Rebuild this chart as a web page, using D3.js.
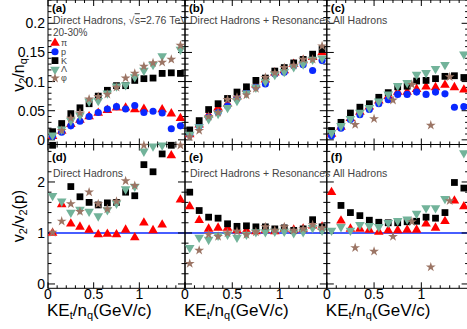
<!DOCTYPE html>
<html>
<head>
<meta charset="utf-8">
<script src="https://cdn.jsdelivr.net/npm/d3@7/dist/d3.min.js"></script>
<style>
  body { margin: 0; background: #fff; }
  svg { display: block; font-family: "Liberation Sans", Arial, sans-serif; }
</style>
</head>
<body>
<svg id="chart" width="467" height="329"></svg>
<script>
// KE_t/n_q bin centres (GeV/c)
const ket = [0.05, 0.15, 0.25, 0.35, 0.45, 0.55, 0.65, 0.75, 0.85, 0.95, 1.05, 1.15, 1.25, 1.35, 1.45];
// phi uses wider bins in the "All Hadrons" panels
const ketPhiAll = [0.3, 0.5, 0.7, 0.9, 1.1, 1.3];

// (a) direct hadrons, v2/nq
const aPi  = [0.006, 0.015, 0.027, 0.034, 0.040, 0.046, 0.051, 0.055, 0.055, 0.052, 0.053, null, 0.052, 0.045, 0.037];
const aP   = [0.006, 0.013, 0.024, 0.032, 0.040, 0.047, 0.053, 0.057, 0.053, 0.059, 0.047, 0.049, 0.046, 0.019, 0.024];
const aK   = [0.014, 0.028, 0.045, 0.055, 0.062, 0.075, 0.085, 0.093, 0.093, 0.102, 0.105, 0.106, 0.114, 0.115, 0.114];
const aLam = [0.008, 0.018, 0.033, 0.042, 0.066, 0.067, 0.080, 0.092, 0.094, 0.108, 0.119, 0.129, 0.144, null, 0.155];
const aPhi = [null, 0.016, 0.037, 0.046, 0.070, 0.074, 0.078, 0.090, 0.106, 0.114, 0.126, 0.132, 0.133, 0.138, 0.162];

// (b) direct hadrons + resonances, v2/nq
const bPi  = [0.009, 0.026, 0.043, 0.055, 0.062, 0.074, 0.087, 0.095, 0.103, 0.115, 0.119, 0.130, 0.136, 0.142, 0.150];
const bP   = [0.009, 0.024, 0.039, 0.047, 0.058, 0.071, 0.083, 0.091, 0.096, 0.113, 0.116, 0.127, 0.129, 0.119, 0.136];
const bK   = [0.017, 0.033, 0.052, 0.062, 0.071, 0.082, 0.091, 0.102, 0.106, 0.118, 0.124, 0.132, 0.138, 0.147, 0.155];
const bLam = [0.009, 0.022, 0.036, 0.045, 0.055, 0.067, 0.080, 0.090, 0.100, 0.112, 0.117, 0.125, 0.130, 0.138, 0.140];
const bPhi = [0.005, 0.016, 0.040, 0.047, 0.069, 0.073, 0.077, 0.088, 0.107, 0.115, 0.124, 0.128, 0.138, 0.138, 0.161];

// (c) all hadrons, v2/nq
const cPi  = [0.010, 0.022, 0.037, 0.048, 0.057, 0.067, 0.075, 0.082, 0.082, 0.087, 0.091, 0.090, 0.094, 0.090, 0.086];
const cP   = [0.007, 0.020, 0.035, 0.043, 0.052, 0.062, 0.069, 0.078, 0.078, 0.082, 0.078, 0.082, 0.079, 0.056, 0.057];
const cK   = [0.016, 0.030, 0.046, 0.056, 0.062, 0.073, 0.081, 0.091, 0.092, 0.101, 0.102, 0.105, 0.109, 0.110, 0.107];
const cLam = [0.012, 0.024, 0.036, 0.047, 0.055, 0.066, 0.078, 0.093, 0.098, 0.112, 0.115, 0.122, 0.129, null, 0.147];
const cPhi = [0.026, 0.036, 0.068, 0.095, 0.025, 0.108];

// (d) direct hadrons, v2/v2(p)
const dPi  = [1.00, 1.56, 1.18, 1.12, 1.06, 0.97, 0.98, 0.97, 1.06, 0.91, 1.20, 1.05, 1.16, 2.52, 1.65];
const dK   = [2.72, null, 1.91, 1.71, 1.60, 1.55, 1.59, 1.60, 1.80, 1.73, 2.34, 2.20, 2.55, 2.72, null];
const dLam = [1.73, 1.62, 1.40, 1.46, 1.42, 1.33, 1.45, 1.58, 1.86, 1.91, 2.60, 2.70, 2.72, null, null];
const dPhi = [1.01, 1.23, 1.57, 1.42, 1.80, 1.57, 1.47, 1.62, 2.02, 1.93, 2.72, null, null, null, 2.72];

// (e) direct hadrons + resonances, v2/v2(p)
const ePi  = [1.52, 1.25, 1.08, 1.10, 1.10, 1.05, 1.05, 1.03, 1.05, 1.03, 1.08, 1.06, 1.08, 1.14, 1.12];
const eK   = [1.80, 1.44, 1.31, 1.29, 1.18, 1.13, 1.14, 1.12, 1.12, 1.08, 1.10, 1.05, 1.08, 1.26, 1.12];
const eLam = [0.71, 0.91, 0.87, 0.95, 0.97, 0.91, 0.97, 1.02, 1.02, 1.03, 1.03, 1.00, 1.02, 1.10, 1.05];
const ePhi = [0.40, 0.66, 0.97, 0.93, 1.00, 1.03, 0.97, 1.02, 1.12, 1.05, 1.12, 1.05, 1.08, 1.16, 1.10];

// (f) all hadrons, v2/v2(p)
const fPi  = [1.80, 1.24, 1.08, 1.08, 1.06, 1.02, 1.05, 1.05, 1.06, 1.06, 1.18, 1.10, 1.23, 1.63, 1.52];
const fK   = [null, 1.54, 1.40, 1.34, 1.25, 1.21, 1.20, 1.20, 1.22, 1.23, 1.31, 1.29, 1.40, 1.99, 1.88];
const fLam = [1.05, 1.12, 1.05, 1.16, 1.14, 1.12, 1.20, 1.24, 1.27, 1.38, 1.49, 1.49, 1.67, null, 2.57];
const fPhi = [0.71, 0.64, 0.93, 1.22, 0.33, 1.63];

const species = {
    pi:  { label: '\u03c0', color: '#ff0000', shape: d3.symbolTriangle, size: 40, rot: 0 },
    p:   { label: 'p',      color: '#0a28ff', shape: d3.symbolCircle,   size: 40, rot: 0 },
    K:   { label: 'K',      color: '#000000', shape: d3.symbolSquare,   size: 46, rot: 0 },
    lam: { label: '\u039b', color: '#72b39a', shape: d3.symbolTriangle, size: 40, rot: 180 },
    phi: { label: '\u03c6', color: '#9c7565', shape: d3.symbolStar,     size: 30, rot: 0 }
};

const cols = [[48, 185], [185, 326.8], [326.8, 468.6]];
const rowTop = [0, 144.5];
const rowBot = [144.5, 288.3];

const svg = d3.select('#chart');

const yTop = d3.scaleLinear().domain([-0.008, 0.24]).range([rowTop[1], rowTop[0]]);
const yBot = d3.scaleLinear().domain([-0.085, 2.735]).range([rowBot[1], rowBot[0]]);

const panels = [
    { col: 0, y: yTop, row: rowTop, tag: '(a)', series: [['pi', ket, aPi], ['p', ket, aP], ['K', ket, aK], ['lam', ket, aLam], ['phi', ket, aPhi]] },
    { col: 1, y: yTop, row: rowTop, tag: '(b)', series: [['pi', ket, bPi], ['p', ket, bP], ['K', ket, bK], ['lam', ket, bLam], ['phi', ket, bPhi]] },
    { col: 2, y: yTop, row: rowTop, tag: '(c)', series: [['pi', ket, cPi], ['p', ket, cP], ['K', ket, cK], ['lam', ket, cLam], ['phi', ketPhiAll, cPhi]] },
    { col: 0, y: yBot, row: rowBot, tag: '(d)', series: [['pi', ket, dPi], ['K', ket, dK], ['lam', ket, dLam], ['phi', ket, dPhi]] },
    { col: 1, y: yBot, row: rowBot, tag: '(e)', series: [['pi', ket, ePi], ['K', ket, eK], ['lam', ket, eLam], ['phi', ket, ePhi]] },
    { col: 2, y: yBot, row: rowBot, tag: '(f)', series: [['pi', ket, fPi], ['K', ket, fK], ['lam', ket, fLam], ['phi', ketPhiAll, fPhi]] }
];

const xMinor = d3.range(0, 16).map(i => i / 10);
const yMinorTop = d3.range(0, 25).map(i => i / 100);
const yMinorBot = d3.range(0, 14).map(i => i / 5);

const marker = (g, key, cx, cy) => {
    const s = species[key];
    g.append('path')
        .attr('d', d3.symbol().type(s.shape).size(s.size)())
        .attr('transform', `translate(${cx},${cy}) rotate(${s.rot})`)
        .attr('fill', s.color);
};

// blue reference line at v2/v2(p) = 1
svg.append('line')
    .attr('x1', cols[0][0]).attr('x2', 467)
    .attr('y1', yBot(1)).attr('y2', yBot(1))
    .attr('stroke', '#0a28ff').attr('stroke-width', 1.6);

panels.forEach(pn => {
    const [x0, x1] = cols[pn.col];
    const x = d3.scaleLinear().domain([0, 1.5]).range([x0, x1]);
    const y = pn.y;
    const [yt, yb] = pn.row;
    const g = svg.append('g');

    // frame
    g.append('rect')
        .attr('x', x0).attr('y', yt).attr('width', x1 - x0).attr('height', yb - yt)
        .attr('fill', 'none').attr('stroke', '#000').attr('stroke-width', 1);

    // x ticks on bottom and top
    xMinor.forEach((v, i) => {
        const len = i % 5 === 0 ? 6 : 3;
        const px = x(v);
        g.append('line').attr('x1', px).attr('x2', px).attr('y1', yb).attr('y2', yb - len).attr('stroke', '#000');
        g.append('line').attr('x1', px).attr('x2', px).attr('y1', yt).attr('y2', yt + len).attr('stroke', '#000');
    });

    // y ticks on left and right
    const yMinor = pn.row === rowTop ? yMinorTop : yMinorBot;
    yMinor.forEach((v, i) => {
        const len = i % 5 === 0 ? 7 : 3.5;
        const py = y(v);
        g.append('line').attr('x1', x0).attr('x2', x0 + len).attr('y1', py).attr('y2', py).attr('stroke', '#000');
        g.append('line').attr('x1', x1).attr('x2', x1 - len).attr('y1', py).attr('y2', py).attr('stroke', '#000');
    });

    // points
    pn.series.forEach(([key, xs, vals]) => {
        vals.forEach((v, i) => {
            if (v === null) return;
            marker(g, key, x(xs[i]), y(v));
        });
    });

    // panel tag
    g.append('text')
        .attr('x', x0 + 4).attr('y', yt + (pn.row === rowTop ? 12 : 16))
        .attr('font-size', 11.5).attr('font-weight', 'bold').attr('fill', '#000')
        .text(pn.tag);

    // x tick labels under the bottom row
    if (pn.row === rowBot) {
        [0, 0.5, 1].forEach(v => {
            g.append('text')
                .attr('x', x(v)).attr('y', 299)
                .attr('text-anchor', 'middle').attr('font-size', 14)
                .text(v === 0 ? '0' : String(v));
        });
        const t = g.append('text').attr('x', x0 - 1).attr('y', 316).attr('font-size', 17);
        t.append('tspan').text('KE');
        t.append('tspan').attr('font-size', 11).attr('dy', 3).text('t');
        t.append('tspan').attr('dy', -3).text('/n');
        t.append('tspan').attr('font-size', 11).attr('dy', 3).text('q');
        t.append('tspan').attr('dy', -3).text('(GeV/c)');
    }
});

// y tick labels (first column only)
[0, 0.05, 0.1, 0.15, 0.2].forEach(v => {
    svg.append('text')
        .attr('x', 45).attr('y', yTop(v) + 5)
        .attr('text-anchor', 'end').attr('font-size', 14)
        .text(String(v));
});
[0, 1, 2].forEach(v => {
    svg.append('text')
        .attr('x', 45).attr('y', yBot(v) + 5)
        .attr('text-anchor', 'end').attr('font-size', 14)
        .text(String(v));
});

// y axis titles
const yt1 = svg.append('text').attr('transform', 'translate(24,75) rotate(-90)')
    .attr('text-anchor', 'middle').attr('font-size', 16);
yt1.append('tspan').text('v');
yt1.append('tspan').attr('font-size', 11).attr('dy', 3).text('2');
yt1.append('tspan').attr('dy', -3).text('/n');
yt1.append('tspan').attr('font-size', 11).attr('dy', 3).text('q');

const yt2 = svg.append('text').attr('transform', 'translate(24,216) rotate(-90)')
    .attr('text-anchor', 'middle').attr('font-size', 16);
yt2.append('tspan').text('v');
yt2.append('tspan').attr('font-size', 11).attr('dy', 3).text('2');
yt2.append('tspan').attr('dy', -3).text('/v');
yt2.append('tspan').attr('font-size', 11).attr('dy', 3).text('2');
yt2.append('tspan').attr('dy', -3).text('(p)');

// annotations
const note = (x, y, txt) => svg.append('text')
    .attr('x', x).attr('y', y).attr('font-size', 10.5).attr('fill', '#444').text(txt);

const t0 = svg.append('text').attr('x', 53).attr('y', 24.2).attr('font-size', 10.5).attr('fill', '#444');
t0.append('tspan').text('Direct Hadrons, \u221a');
t0.append('tspan').attr('text-decoration', 'overline').text('s');
t0.append('tspan').text('=2.76 TeV');
const t1 = note(53, 36, '20-30%');
t1.attr('font-size', 10);
note(190, 24.2, 'Direct Hadrons + Resonances');
note(333, 24.2, 'All Hadrons');
note(53, 177, 'Direct Hadrons');
note(190, 177, 'Direct Hadrons + Resonances');
note(333, 177, 'All Hadrons');

// legend
['pi', 'p', 'K', 'lam', 'phi'].forEach((key, i) => {
    const ly = 43 + 8.8 * i;
    marker(svg, key, 55, ly);
    svg.append('text')
        .attr('x', 61).attr('y', ly + 3)
        .attr('font-size', 9).attr('fill', '#444')
        .text(species[key].label);
});
</script>
</body>
</html>
